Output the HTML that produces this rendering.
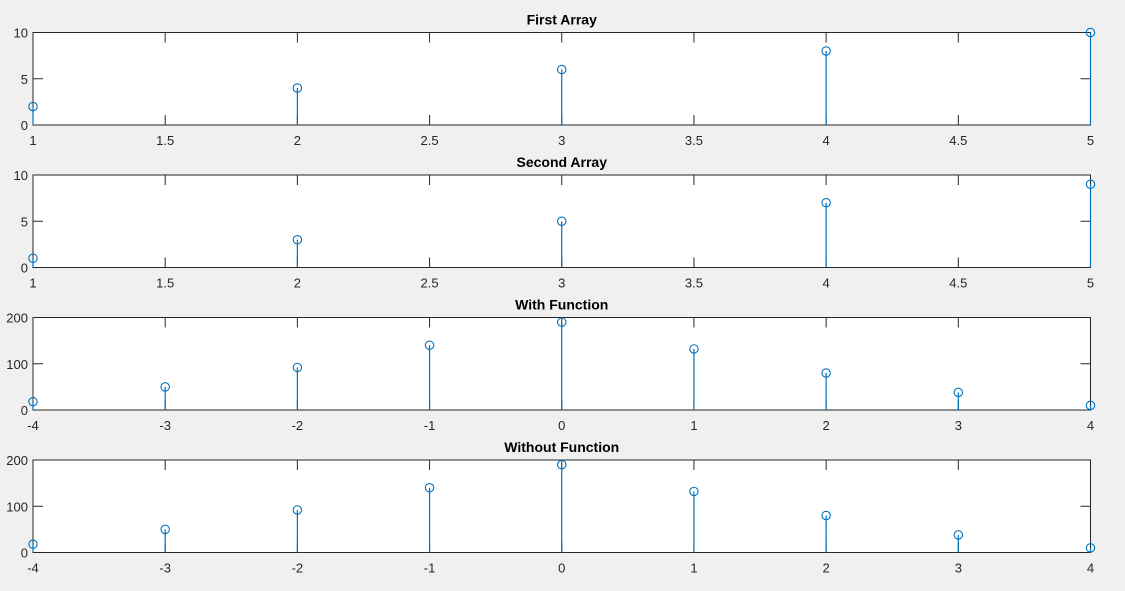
<!DOCTYPE html>
<html><head><meta charset="utf-8"><style>
body{margin:0;background:#f0f0f0;}
svg{display:block;font-family:"Liberation Sans",sans-serif;}
</style></head><body>
<svg id="fig" width="1125" height="591"></svg>
<script>
const firstX=[1,2,3,4,5];
const firstY=[2,4,6,8,10];
const secondX=[1,2,3,4,5];
const secondY=[1,3,5,7,9];
const lagX=[-4,-3,-2,-1,0,1,2,3,4];
const withFuncY=[18,50,92,140,190,132,80,38,10];
const withoutFuncY=[18,50,92,140,190,132,80,38,10];
const xTicksA=[1,1.5,2,2.5,3,3.5,4,4.5,5];
const yTicksA=[0,5,10];
const xTicksB=[-4,-3,-2,-1,0,1,2,3,4];
const yTicksB=[0,100,200];
const titles=["First Array","Second Array","With Function","Without Function"];

const NS="http://www.w3.org/2000/svg";
const svg=document.getElementById('fig');
function mk(t,a,p){const e=document.createElementNS(NS,t);for(const k in a)e.setAttribute(k,a[k]);(p||svg).appendChild(e);return e;}
const L=33,R=1090.5,H=92.5;
const tops=[32.5,175,317.5,460];
const cfg=[
 {xs:firstX,ys:firstY,xt:xTicksA,yt:yTicksA,xmin:1,xmax:5,ymax:10},
 {xs:secondX,ys:secondY,xt:xTicksA,yt:yTicksA,xmin:1,xmax:5,ymax:10},
 {xs:lagX,ys:withFuncY,xt:xTicksB,yt:yTicksB,xmin:-4,xmax:4,ymax:200},
 {xs:lagX,ys:withoutFuncY,xt:xTicksB,yt:yTicksB,xmin:-4,xmax:4,ymax:200}];
cfg.forEach((c,i)=>{
 const T=tops[i],B=T+H;
 const g=mk('g',{});
 
 
 const sx=v=>L+(v-c.xmin)/(c.xmax-c.xmin)*(R-L);
 const sy=v=>B-v/c.ymax*H;
 const bg=mk('rect',{x:L,y:T,width:R-L,height:H,fill:'#fff'},g);
 
 
 c.xt.forEach(v=>{
  const x=sx(v);
  mk('line',{x1:x,y1:B,x2:x,y2:B-10,stroke:'#262626','stroke-width':1},g);
  mk('line',{x1:x,y1:T,x2:x,y2:T+10,stroke:'#262626','stroke-width':1},g);
  const t=mk('text',{x:x,y:B+20,'text-anchor':'middle','font-size':13,fill:'#262626'},g);
  t.textContent=v;
  
  
 });
 c.yt.forEach(v=>{
  const y=sy(v);
  mk('line',{x1:L,y1:y,x2:L+10,y2:y,stroke:'#262626','stroke-width':1},g);
  mk('line',{x1:R,y1:y,x2:R-10,y2:y,stroke:'#262626','stroke-width':1},g);
  const t=mk('text',{x:L-5,y:y+5,'text-anchor':'end','font-size':13,fill:'#262626'},g);
  t.textContent=v;
  
  
 });
 const box=mk('rect',{x:L,y:T,width:R-L,height:H,fill:'none',stroke:'#262626','stroke-width':1},g);
 
 
 c.xs.forEach((xv,j)=>{
  const x=sx(xv),y=sy(c.ys[j]);
  const s=mk('line',{x1:x,y1:B,x2:x,y2:y,stroke:'#0072bd','stroke-width':1.2},g);
  
  
  const m=mk('circle',{cx:x,cy:y,r:4.2,fill:'none',stroke:'#0072bd','stroke-width':1.1},g);
  
  
 });
 const tt=mk('text',{x:(L+R)/2,y:T-8,'text-anchor':'middle','font-size':14,'font-weight':'bold',fill:'#000'},g);
 tt.textContent=titles[i];
 
 
});
</script>
</body></html>
